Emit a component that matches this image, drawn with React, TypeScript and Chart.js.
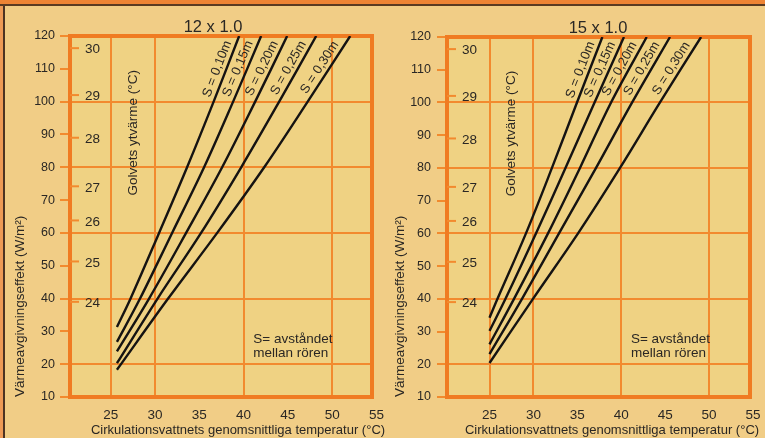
import React, { useEffect, useRef } from "react";
import { Chart, registerables } from "chart.js";

Chart.register(...registerables);

const W = 765;
const H = 438;

// ---------- data ----------
const spacingLabels = ["S = 0,10m", "S = 0,15m", "S = 0,20m", "S = 0,25m", "S = 0,30m"];
const heatTickValues = [10, 20, 30, 40, 50, 60, 70, 80, 90, 100, 110, 120];
const heatGridLines = [20, 40, 60, 80, 100];
const tempTickLabels = [25, 30, 35, 40, 45, 50, 55];
const tempGridLines = [25, 30, 40, 50];
const floorTempLabels = ["24", "25", "26", "27", "28", "29", "30"];
const floorTempHeat = [39, 51.3, 63.8, 74.2, 89, 102, 116.3];
const readHeat = [40, 60, 80, 100, 120];

// panel 12 x 1.0 (water temperature at each heat level in readHeat)
const p12StartTemp = 25.7;
const p12StartHeat = [31.3, 26.8, 23.9, 20.3, 18.3];
const p12S010 = [27.24, 30.46, 33.62, 36.62, 39.5];
const p12S015 = [28.31, 31.93, 35.54, 38.82, 41.98];
const p12S020 = [29.33, 33.51, 37.58, 41.31, 44.92];
const p12S025 = [30.29, 35.2, 39.73, 44.02, 48.2];
const p12S030 = [31.48, 37.02, 42.33, 47.24, 52.04];

// panel 15 x 1.0
const p15StartTemp = 25.0;
const p15StartHeat = [34.2, 30.2, 26.1, 23.1, 20.4];
const p15S010 = [25.91, 29.15, 32.11, 34.96, 37.85];
const p15S015 = [26.82, 30.3, 33.65, 36.96, 40.31];
const p15S020 = [27.79, 31.66, 35.3, 38.84, 42.9];
const p15S025 = [28.7, 32.91, 37.13, 41.24, 45.55];
const p15S030 = [29.95, 35.08, 39.86, 44.41, 49.09];

// ---------- style ----------
const FONT = '"Liberation Sans", Arial, Helvetica, sans-serif';
const OUTER_BG = "#f1cd86";
const PLOT_BG = "#efd283";
const GRID = "#f28a2e";
const BORDER = "#f07b22";
const TEXT = "#2a2724";
const CURVE = "#151312";

type Panel = {
  title: string;
  titleX: number;
  xTitleX: number;
  area: { left: number; top: number; right: number; bottom: number };
  boxLeft: number;
  tickPad: number;
  xMin: number;
  xMax: number;
  startTemp: number;
  startHeat: number[];
  series: number[][];
};

const panels: Panel[] = [
  {
    title: "12 x 1.0",
    titleX: 213,
    xTitleX: 238,
    area: { left: 70, top: 36, right: 372, bottom: 397 },
    boxLeft: 8,
    tickPad: 5,
    xMin: 20.4,
    xMax: 54.5,
    startTemp: p12StartTemp,
    startHeat: p12StartHeat,
    series: [p12S010, p12S015, p12S020, p12S025, p12S030],
  },
  {
    title: "15 x 1.0",
    titleX: 598,
    xTitleX: 612,
    area: { left: 447, top: 37, right: 750, bottom: 397 },
    boxLeft: 388,
    tickPad: 6,
    xMin: 20.16,
    xMax: 54.66,
    startTemp: p15StartTemp,
    startHeat: p15StartHeat,
    series: [p15S010, p15S015, p15S020, p15S025, p15S030],
  },
];

function panelPlugin(p: Panel) {
  return {
    id: "panelDecor",
    beforeDraw(chart: any) {
      const { ctx, chartArea: a } = chart;
      ctx.save();
      ctx.fillStyle = PLOT_BG;
      ctx.fillRect(a.left, a.top, a.right - a.left, a.bottom - a.top);
      ctx.restore();
    },
    beforeDatasetsDraw(chart: any) {
      const { ctx, chartArea: a } = chart;
      const xs = chart.scales.x;
      const ys = chart.scales.y;
      ctx.save();
      ctx.strokeStyle = BORDER;
      ctx.lineWidth = 4;
      ctx.strokeRect(a.left, a.top, a.right - a.left, a.bottom - a.top);
      ctx.font = `13.5px ${FONT}`;
      ctx.textAlign = "left";
      ctx.textBaseline = "middle";
      floorTempHeat.forEach((v, i) => {
        const py = ys.getPixelForValue(v);
        ctx.strokeStyle = GRID;
        ctx.lineWidth = 2;
        ctx.beginPath();
        ctx.moveTo(a.left, py);
        ctx.lineTo(a.left + 9, py);
        ctx.stroke();
        ctx.fillStyle = TEXT;
        ctx.fillText(floorTempLabels[i], a.left + 15, py + 1.5);
      });
      ctx.save();
      ctx.translate(xs.getPixelForValue(27.5), ys.getPixelForValue(90.5));
      ctx.rotate(-Math.PI / 2);
      ctx.textAlign = "center";
      ctx.textBaseline = "middle";
      ctx.font = `13.5px ${FONT}`;
      ctx.fillStyle = TEXT;
      ctx.fillText("Golvets ytvärme (°C)", 0, 0);
      ctx.restore();
      ctx.textAlign = "left";
      ctx.textBaseline = "middle";
      ctx.font = `13.5px ${FONT}`;
      ctx.fillStyle = TEXT;
      const nx = xs.getPixelForValue(41.1);
      const ny = ys.getPixelForValue(27.6);
      ctx.fillText("S= avståndet", nx, ny);
      ctx.fillText("mellan rören", nx, ny + 14);
      ctx.restore();
    },
    afterDatasetsDraw(chart: any) {
      const { ctx } = chart;
      const xs = chart.scales.x;
      const ys = chart.scales.y;
      ctx.save();
      ctx.font = `13px ${FONT}`;
      ctx.fillStyle = TEXT;
      ctx.textAlign = "center";
      ctx.textBaseline = "middle";
      p.series.forEach((s, i) => {
        const x1 = xs.getPixelForValue(s[3]);
        const y1 = ys.getPixelForValue(readHeat[3]);
        const x2 = xs.getPixelForValue(s[4]);
        const y2 = ys.getPixelForValue(readHeat[4]);
        const len = Math.hypot(x2 - x1, y2 - y1);
        const ux = (x2 - x1) / len;
        const uy = (y2 - y1) / len;
        const t = 0.45;
        const mx = x1 + (x2 - x1) * t;
        const my = y1 + (y2 - y1) * t;
        const off = 8.5;
        const cx = mx + uy * off;
        const cy = my - ux * off;
        ctx.save();
        ctx.translate(cx, cy);
        ctx.rotate(Math.atan2(uy, ux));
        ctx.fillText(spacingLabels[i], 0, 0);
        ctx.restore();
      });
      ctx.restore();
    },
    afterDraw(chart: any) {
      const { ctx, chartArea: a } = chart;
      const xs = chart.scales.x;
      ctx.save();
      ctx.fillStyle = TEXT;
      ctx.font = `16.5px ${FONT}`;
      ctx.textAlign = "center";
      ctx.textBaseline = "alphabetic";
      ctx.fillText(p.title, p.titleX, a.top - 4.5);
      ctx.font = `13.5px ${FONT}`;
      tempTickLabels.forEach((v) => {
        ctx.fillText(String(v), xs.getPixelForValue(v), a.bottom + 21.5);
      });
      ctx.font = `13px ${FONT}`;
      ctx.fillText("Cirkulationsvattnets genomsnittliga temperatur (°C)", p.xTitleX, a.bottom + 37);
      ctx.restore();
    },
  };
}

function makeConfig(p: Panel): any {
  return {
    type: "line",
    data: {
      datasets: p.series.map((xsArr, i) => ({
        label: spacingLabels[i],
        data: [
          { x: p.startTemp, y: p.startHeat[i] },
          ...xsArr.map((x, j) => ({ x, y: readHeat[j] })),
        ],
        borderColor: CURVE,
        borderWidth: 2.4,
        pointRadius: 0,
        tension: 0.35,
        fill: false,
      })),
    },
    options: {
      animation: false,
      responsive: false,
      maintainAspectRatio: false,
      events: [],
      layout: {
        padding: { left: p.boxLeft, top: p.area.top, right: W - p.area.right, bottom: 0 },
      },
      plugins: {
        legend: { display: false },
        tooltip: { enabled: false },
        title: { display: false },
      },
      scales: {
        x: {
          type: "linear",
          min: p.xMin,
          max: p.xMax,
          afterBuildTicks: (s: any) => {
            s.ticks = tempGridLines.map((v) => ({ value: v }));
          },
          afterFit: (s: any) => {
            s.height = H - p.area.bottom;
          },
          ticks: { display: false },
          grid: { color: GRID, lineWidth: 2, drawTicks: false },
          border: { display: false },
        },
        y: {
          type: "linear",
          min: 10,
          max: 120,
          afterBuildTicks: (s: any) => {
            s.ticks = heatTickValues.map((v) => ({ value: v }));
          },
          afterFit: (s: any) => {
            s.width = p.area.left - p.boxLeft;
          },
          ticks: {
            color: TEXT,
            font: { family: FONT, size: 12.5 },
            padding: p.tickPad,
            autoSkip: false,
          },
          grid: {
            color: (c: any) =>
              c.tick && heatGridLines.includes(c.tick.value) ? GRID : "rgba(0,0,0,0)",
            tickColor: GRID,
            lineWidth: 2,
            tickWidth: 2,
            tickLength: 10,
            drawTicks: true,
          },
          border: { display: false },
          title: {
            display: true,
            text: "Värmeavgivningseffekt (W/m²)",
            align: "start",
            color: TEXT,
            font: { family: FONT, size: 13.5 },
            padding: { top: 4, bottom: 0 },
          },
        },
      },
    },
    plugins: [panelPlugin(p)],
  };
}

function PanelCanvas({ p }: { p: Panel }) {
  const ref = useRef<HTMLCanvasElement | null>(null);
  useEffect(() => {
    if (!ref.current) return;
    const chart = new Chart(ref.current, makeConfig(p));
    return () => chart.destroy();
  }, [p]);
  return (
    <canvas
      ref={ref}
      width={W}
      height={H}
      style={{ position: "absolute", left: 0, top: 0, width: W, height: H }}
    />
  );
}

export default function App() {
  return (
    <div
      style={{
        position: "fixed",
        left: 0,
        top: 0,
        width: W,
        height: H,
        background: OUTER_BG,
        overflow: "hidden",
      }}
    >
      <div style={{ position: "absolute", left: 0, top: 0, width: W, height: 4, background: "#ee8434" }} />
      <div style={{ position: "absolute", left: 0, top: 4, width: W, height: 2, background: "#5b3b22" }} />
      <div style={{ position: "absolute", left: 0, top: 6, width: 3, height: H - 6, background: "#ee9a55" }} />
      <div style={{ position: "absolute", left: 3, top: 6, width: 2, height: H - 6, background: "#4d3322" }} />
      {panels.map((p, i) => (
        <PanelCanvas key={i} p={p} />
      ))}
    </div>
  );
}
